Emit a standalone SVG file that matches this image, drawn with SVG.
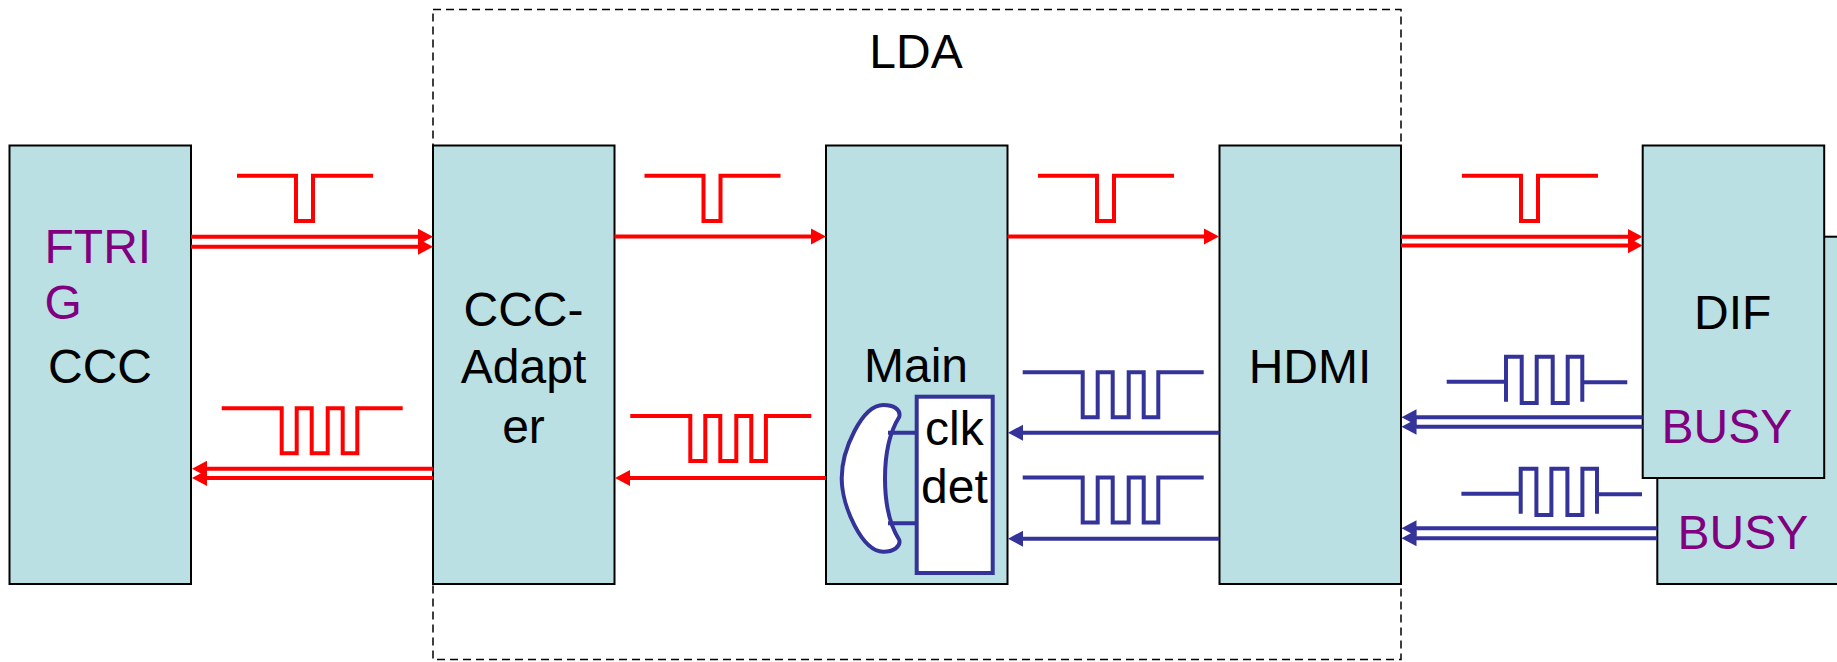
<svg xmlns="http://www.w3.org/2000/svg" xmlns:xlink="http://www.w3.org/1999/xlink" width="1837" height="662" viewBox="0 0 1837 662">
<style>
text{font-family:"Liberation Sans",Arial,sans-serif;font-size:48px;fill:#000}
.p{fill:#800080}
.box{fill:#bae0e3;stroke:#000;stroke-width:2}
.r,.b{fill:none;stroke-width:4}
.r{stroke:#f00}
.b{stroke:#333399}
.ra{marker-end:url(#mr)}
.ba{marker-end:url(#mb)}
.m{text-anchor:middle}
</style>
<defs>
<marker id="mr" markerUnits="userSpaceOnUse" markerWidth="15" markerHeight="17" viewBox="0 0 15 17" refX="5" refY="8.5" orient="auto"><path d="M0 0.5L15 8.5L0 16.500Z" fill="#f00"/></marker>
<marker id="mb" markerUnits="userSpaceOnUse" markerWidth="15" markerHeight="17" viewBox="0 0 15 17" refX="5" refY="8.500" orient="auto"><path d="M0 0.5L15 8.5L0 16.500Z" fill="#333399"/></marker>
<polyline id="pulse" points="237,175.700 296,175.700 296,221 313,221 313,175.700 373,175.700"/>
<polyline id="tri" points="221.700,408.300 281.700,408.300 281.700,453.300 296.700,453.300 296.700,408.300 311.700,408.300 311.700,453.300 327.700,453.300 327.700,408.300 342.700,408.300 342.700,453.300 357.300,453.300 357.300,408.300 402.700,408.300"/>
<polyline id="busy" points="1446.700,381.700 1506,381.700 1506,401.700 1506,356.700 1521.700,356.700 1521.700,403 1536.700,403 1536.700,356.700 1552.700,356.700 1552.700,403 1567.700,403 1567.700,356.700 1582.300,356.700 1582.300,401.700 1582.300,382.300 1627.300,382.300"/>
</defs>
<rect width="1837" height="662" fill="#fff"/>
<g id="lda">
<rect x="433" y="9.500" width="968" height="650" fill="none" stroke="#000" stroke-width="1.500" stroke-dasharray="8 5"/>
<text class="m" x="916" y="68">LDA</text>
</g>
<g id="dif2">
<rect class="box" x="1657.300" y="236.700" width="190" height="347.300"/>
<text class="p" x="1677.500" y="549">BUSY</text>
</g>
<g id="ccc">
<rect class="box" x="9.500" y="145.500" width="181.500" height="438.500"/>
<text class="p" x="44.500" y="263">FTRI</text>
<text class="p" x="44.500" y="319">G</text>
<text x="48" y="383">CCC</text>
</g>
<g id="ccc-adapter">
<rect class="box" x="433" y="145.500" width="181.500" height="438.500"/>
<text class="m" x="523.500" y="326">CCC-</text>
<text class="m" x="523.500" y="383">Adapt</text>
<text class="m" x="523.500" y="443">er</text>
</g>
<g id="main">
<rect class="box" x="826" y="145.500" width="181.500" height="438.500"/>
<text x="864" y="382">Main</text>
</g>
<g id="hdmi">
<rect class="box" x="1219.500" y="145.500" width="181.500" height="438.500"/>
<text class="m" x="1310" y="383">HDMI</text>
</g>
<g id="dif">
<rect class="box" x="1642.700" y="145.500" width="181.500" height="332.500"/>
<text x="1694" y="329">DIF</text>
<text class="p" x="1661.500" y="443">BUSY</text>
</g>
<g id="clk-det">
<path class="b" style="fill:#fff" d="M899.300 416.700C901 409 893 405 883.300 405C862 405 841.700 450 841.700 478.300C841.700 506 862 551.700 883.300 551.700C893 551.700 901 547 899.300 540C891 527 885 510 885 478.300C885 447 891 430 899.300 416.700Z"/>
<path class="b" d="M888 432.700H917M888 523.300H917"/>
<rect class="b" style="fill:#fff" x="916.700" y="396.700" width="76" height="176.300"/>
<text x="925" y="445">clk</text>
<text x="921" y="503">det</text>
</g>
<g id="connectors">
<path class="r ra" d="M191 236.700H423"/>
<path class="r ra" d="M191 246.700H423"/>
<path class="r ra" d="M433 468.700H202"/>
<path class="r ra" d="M433 478H202"/>
<path class="r ra" d="M614.500 236.500H816"/>
<path class="r ra" d="M1007.500 236.500H1209"/>
<path class="r ra" d="M826 478H625"/>
<path class="r ra" d="M1401 236.700H1632.500"/>
<path class="r ra" d="M1401 245.500H1632.500"/>
<path class="b ba" d="M1219.500 432.700H1018"/>
<path class="b ba" d="M1219.500 538.700H1018"/>
<path class="b ba" d="M1642.700 417.300H1411.500"/>
<path class="b ba" d="M1642.700 426.700H1411.500"/>
<path class="b ba" d="M1657.300 528.300H1411.500"/>
<path class="b ba" d="M1657.300 538.300H1411.500"/>
</g>
<g id="waveforms">
<use xlink:href="#pulse" class="r"/>
<use xlink:href="#pulse" class="r" x="407.500"/>
<use xlink:href="#pulse" class="r" x="801"/>
<use xlink:href="#pulse" class="r" x="1225"/>
<use xlink:href="#tri" class="r"/>
<use xlink:href="#tri" class="r" x="408.600" y="7.700"/>
<use xlink:href="#tri" class="b" x="801" y="-36"/>
<use xlink:href="#tri" class="b" x="801" y="69.300"/>
<use xlink:href="#busy" class="b"/>
<use xlink:href="#busy" class="b" x="14.700" y="112"/>
</g>
</svg>
